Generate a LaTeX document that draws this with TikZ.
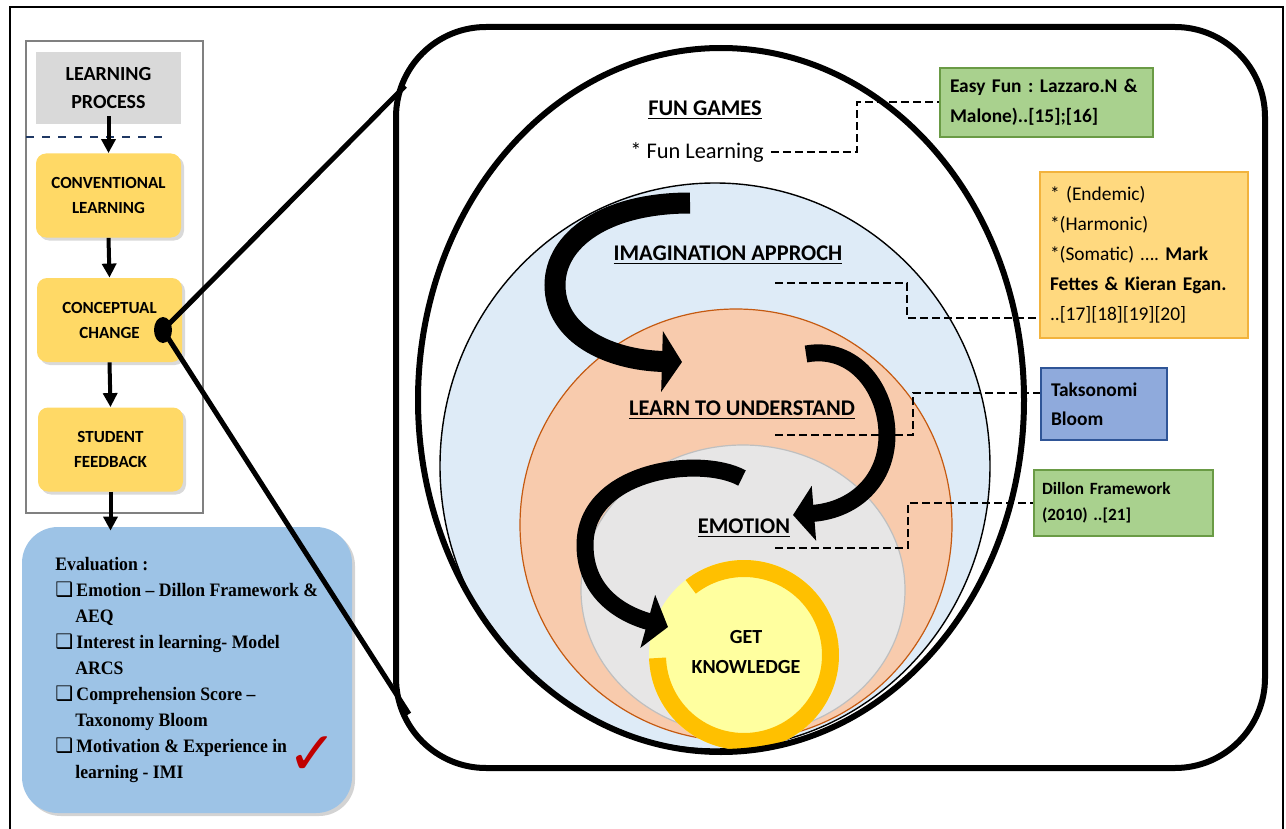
\documentclass[tikz,border=0pt]{standalone}
\usepackage{fontspec}
\setmainfont{Carlito}
\newfontfamily\evalfont[FakeStretch=0.93]{Liberation Serif}
\newfontfamily\symfont{DejaVu Sans}
\usetikzlibrary{arrows.meta,shapes.geometric,shadows}
\frenchspacing

\definecolor{procgray}{HTML}{D9D9D9}
\definecolor{stagegold}{HTML}{FFD966}
\definecolor{panelgray}{HTML}{808080}
\definecolor{dashblue}{HTML}{1F3864}
\definecolor{evalblue}{HTML}{9DC3E6}
\definecolor{imagblue}{HTML}{DEEBF7}
\definecolor{learnorange}{HTML}{F8CBAD}
\definecolor{learnedge}{HTML}{C55A11}
\definecolor{emogray}{HTML}{E7E6E6}
\definecolor{emoedge}{HTML}{BFBFBF}
\definecolor{knowfill}{HTML}{FFFF9F}
\definecolor{knowring}{HTML}{FFC000}
\definecolor{easygreen}{HTML}{A9D18E}
\definecolor{easyedge}{HTML}{6A9B45}
\definecolor{eganfill}{HTML}{FFD97F}
\definecolor{eganedge}{HTML}{F2B33D}
\definecolor{bloomblue}{HTML}{8FAADC}
\definecolor{bloomedge}{HTML}{2F5597}
\definecolor{tickred}{HTML}{C00000}

\newcommand\evbox{{\symfont\fontsize{10}{13}\selectfont ❑}\,}

\begin{document}
\begin{tikzpicture}[x=0.5pt,y=-0.5pt,
  procbox/.style={fill=procgray,minimum width=72.5pt,minimum height=36pt,align=center,
    font=\bfseries\fontsize{10}{14}\selectfont},
  stage/.style={fill=stagegold,rounded corners=5pt,minimum width=72.5pt,minimum height=42pt,align=center,
    font=\bfseries\fontsize{8.5}{12.5}\selectfont,
    drop shadow={opacity=.3,shadow xshift=1.5pt,shadow yshift=-1.5pt}},
  flow/.style={line width=2pt,-{Triangle[length=7pt,width=7pt]}},
  ring label/.style={font=\bfseries\fontsize{11.2}{13}\selectfont},
  refbox/.style={align=left,line width=0.6pt,inner xsep=5pt,font=\bfseries\fontsize{9.7}{15}\selectfont},
  refline/.style={line width=1pt,dash pattern=on 4pt off 2pt},
  bigarrow/.style={line width=10.5pt,-{Triangle[length=10pt,width=30pt]}},
  midarrow/.style={line width=8.5pt,-{Triangle[length=10.5pt,width=27pt]}}
]
\useasboundingbox (0,0) rectangle (1286,829);
\draw[line width=1pt] (10,840) -- (10,7) -- (1283,7) -- (1283,840);

% left column
\draw[panelgray,line width=0.8pt] (26,41) rectangle (203,513);
\node[procbox] (proc) at (108.5,88) {LEARNING\\PROCESS};
\draw[dashblue,line width=1pt,dash pattern=on 4pt off 4pt] (26,137) -- (163,137);
\node[stage] (conv) at (108.5,195.5) {CONVENTIONAL\\LEARNING};
\node[stage] (concept) at (109.5,320) {CONCEPTUAL\\CHANGE};
\node[stage] (feed) at (110.5,449.5) {STUDENT\\FEEDBACK};
\node[fill=evalblue,rounded corners=18pt,minimum width=165pt,minimum height=143pt,
  drop shadow={opacity=.35,shadow xshift=1.5pt,shadow yshift=-1.5pt}] (eval) at (187,670) {};

\draw[flow] ([yshift=4pt]proc.south) -- (conv.north);
\draw[flow] (conv.south) -- (concept.north);
\draw[flow] (concept.south) -- (feed.north);
\draw[flow] (feed.south) -- ([yshift=-2pt]feed.south |- eval.north);

\node[anchor=north west,inner sep=0pt,align=left,
  font=\evalfont\bfseries\fontsize{9.5}{13}\selectfont] (evaltext) at (55,557)
  {Evaluation :\\
   \evbox Emotion – Dillon Framework \&\\
   \hspace*{10pt}AEQ\\
   \evbox Interest in learning- Model\\
   \hspace*{10pt}ARCS\\
   \evbox Comprehension Score –\\
   \hspace*{10pt}Taxonomy Bloom\\
   \evbox Motivation \& Experience in\\
   \hspace*{10pt}learning - IMI};
\node[text=tickred,font=\symfont\fontsize{30}{30}\selectfont] (tick) at (313,756) {✓};

% zoom into the conceptual change
\draw[line width=3pt,rounded corners=45pt] (396,27) rectangle (1265,768);
\node[fill=black,ellipse,inner sep=0pt,minimum width=9pt,minimum height=13pt] (dot) at (163,330) {};
\coordinate (zoomtop) at (405,86);
\coordinate (zoombot) at (409,714);
\draw[line width=2.5pt] (dot.center) -- (zoomtop);
\draw[line width=2.5pt] (dot.center) -- (zoombot);

% nested rings
\draw[fill=imagblue,line width=0.7pt] (715,466) ellipse [x radius=137.5pt,y radius=141.5pt];
\draw[fill=learnorange,draw=learnedge,line width=0.6pt] (736,525) circle [radius=108pt];
\draw[fill=emogray,draw=emoedge,line width=0.6pt] (743,590) ellipse [x radius=81pt,y radius=72.5pt];
\fill[knowfill] (744,655) circle [radius=47.5pt];
\draw[knowring,line width=8.5pt] (744,655) ++(182:43.25pt) arc [start angle=182,end angle=488,radius=43.25pt];
\draw[line width=3pt] (721,400) ellipse [x radius=151.5pt,y radius=176pt];

\node[ring label] (fun) at (705,110) {\underline{FUN GAMES}};
\node[font=\fontsize{11.2}{13}\selectfont] (funlearn) at (697,152) {* Fun Learning};
\node[ring label] (imag) at (728,255) {\underline{IMAGINATION APPROCH}};
\node[ring label] (learn) at (742,410) {\underline{LEARN TO UNDERSTAND}};
\node[ring label] (emo) at (744,528) {\underline{EMOTION}};
\node[font=\bfseries\fontsize{10}{15}\selectfont,align=center] (know) at (746,652) {GET\\KNOWLEDGE};

% curved arrows
\draw[bigarrow] (690,203) .. controls (605,203) and (555,240) .. (555,285)
  .. controls (555,335) and (610,360) .. (682,362);
\draw[midarrow] (806,354) .. controls (855,345) and (887,390) .. (887,435)
  .. controls (887,480) and (855,510) .. (793,515);
\draw[midarrow] (742,478) .. controls (700,455) and (585,470) .. (585,545)
  .. controls (585,595) and (625,615) .. (668,627);

% references
\node[refbox,fill=easygreen,draw=easyedge,text width=96.5pt,minimum height=34.5pt] (easy) at (1046.5,102.5)
  {Easy Fun : Lazzaro.N \&\\Malone)..[15];[16]};
\node[refbox,fill=eganfill,draw=eganedge,text width=94pt,minimum height=83pt,
  font=\fontsize{9.7}{15}\selectfont] (egan) at (1144,255)
  {* (Endemic)\\{}*(Harmonic)\\{}*(Somatic) …. \textbf{Mark}\\\textbf{Fettes \& Kieran Egan.}\\..[17][18][19][20]};
\node[refbox,fill=bloomblue,draw=bloomedge,text width=53pt,minimum height=36pt,
  font=\bfseries\fontsize{9.7}{14.5}\selectfont] (bloom) at (1104,404) {Taksonomi\\Bloom};
\node[refbox,fill=easygreen,draw=easyedge,text width=81.5pt,minimum height=33pt,inner xsep=4pt,
  font=\bfseries\fontsize{8.6}{13}\selectfont] (dillon) at (1123.5,503) {Dillon Framework\\(2010) ..[21]};

\coordinate (imagtail) at (775,283);
\coordinate (learntail) at (775,435);
\coordinate (emotail) at (775,548);
\draw[refline] (funlearn.east) -- ++(43pt,0) |- (easy.west);
\draw[refline] (imagtail) -- ++(66pt,0) |- ([yshift=-31.5pt]egan.west);
\draw[refline] (learntail) -- ++(69pt,0) |- ([yshift=5.5pt]bloom.west);
\draw[refline] (emotail) -- ++(66.5pt,0) |- (dillon.west);
\end{tikzpicture}
\end{document}
